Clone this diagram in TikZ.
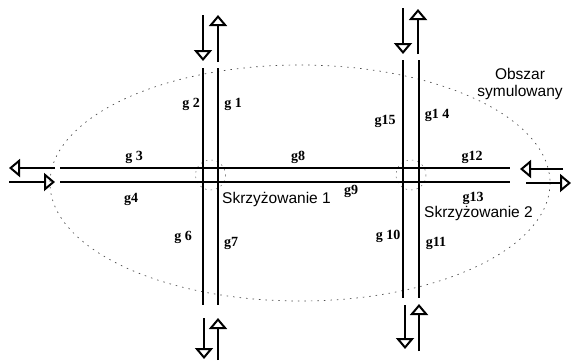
\documentclass[tikz,border=0pt]{standalone}
\usepackage{fontspec}
\setmainfont{Liberation Serif}
\setsansfont{Liberation Sans}
\usetikzlibrary{arrows.meta}
\tikzset{
  road/.style={line width=1.8pt, line cap=butt},
  flow/.style={line width=1.5pt, -{Triangle[open, length=11pt 0 0, width=18pt 0 0, line width=2pt]}},
  glab/.style={font=\bfseries\fontsize{14}{15}\selectfont, inner sep=0pt},
  slab/.style={font=\sffamily\fontsize{15.5}{17}\selectfont, inner sep=0pt},
  area/.style={black!70, line width=0.7pt, dash pattern=on 1.5pt off 5pt},
  junction/.style={black!60, line width=0.5pt, dash pattern=on 1.5pt off 4pt}
}
\begin{document}
\begin{tikzpicture}[x=1pt, y=-1pt]
\useasboundingbox (0,0) rectangle (585,360);
% simulated area
\draw[area] (300,183) ellipse [x radius=250, y radius=118];
\draw[junction] (210.5,175) circle [radius=15];
\draw[junction] (411,175) circle [radius=15];
% horizontal road
\coordinate (hL1) at (60,168); \coordinate (hR1) at (510,168);
\coordinate (hL2) at (60,182); \coordinate (hR2) at (510,182);
\draw[road] (hL1) -- (hR1);
\draw[road] (hL2) -- (hR2);
% vertical road 1
\coordinate (aT1) at (203,68); \coordinate (aB1) at (203,305);
\coordinate (aT2) at (218,68); \coordinate (aB2) at (218,305);
\draw[road] (aT1) -- (aB1);
\draw[road] (aT2) -- (aB2);
% vertical road 2
\coordinate (bT1) at (403,60); \coordinate (bB1) at (403,298);
\coordinate (bT2) at (419,60); \coordinate (bB2) at (419,298);
\draw[road] (bT1) -- (bB1);
\draw[road] (bT2) -- (bB2);
% flow arrows left
\coordinate (l1s) at (55,168); \coordinate (l1e) at (9,168);
\coordinate (l2s) at (9,182); \coordinate (l2e) at (55,182);
\draw[flow] (l1s) -- (l1e);
\draw[flow] (l2s) -- (l2e);
% flow arrows right
\coordinate (r1s) at (563,169); \coordinate (r1e) at (520,169);
\coordinate (r2s) at (526,183); \coordinate (r2e) at (571,183);
\draw[flow] (r1s) -- (r1e);
\draw[flow] (r2s) -- (r2e);
% flow arrows intersection 1
\coordinate (t1s) at (203,15); \coordinate (t1e) at (203,61);
\coordinate (t2s) at (218,62); \coordinate (t2e) at (218,15);
\draw[flow] (t1s) -- (t1e);
\draw[flow] (t2s) -- (t2e);
\coordinate (d1s) at (204,318); \coordinate (d1e) at (204,359);
\coordinate (d2s) at (218,360); \coordinate (d2e) at (218,318);
\draw[flow] (d1s) -- (d1e);
\draw[flow] (d2s) -- (d2e);
% flow arrows intersection 2
\coordinate (u1s) at (403,8); \coordinate (u1e) at (403,54);
\coordinate (u2s) at (418,54); \coordinate (u2e) at (418,9);
\draw[flow] (u1s) -- (u1e);
\draw[flow] (u2s) -- (u2e);
\coordinate (w1s) at (405,305); \coordinate (w1e) at (405,349);
\coordinate (w2s) at (419,351); \coordinate (w2e) at (419,304);
\draw[flow] (w1s) -- (w1e);
\draw[flow] (w2s) -- (w2e);
% labels
\node[glab] (g2) at (191,104) {g 2};
\node[glab] (g1) at (233,104) {g 1};
\node[glab] (g3) at (134,157) {g 3};
\node[glab] (g8) at (298,157) {g8};
\node[glab] (g12) at (472,157) {g12};
\node[glab] (g4) at (131,199) {g4};
\node[glab] (g9) at (351,191) {g9};
\node[glab] (g13) at (473,198) {g13};
\node[glab] (g6) at (183,237) {g 6};
\node[glab] (g7) at (231,243) {g7};
\node[glab] (g15) at (385,121) {g15};
\node[glab] (g14) at (437,115) {g1 4};
\node[glab] (g10) at (388,236) {g 10};
\node[glab] (g11) at (436,243) {g11};
\node[slab, anchor=west] (s1) at (222,199) {Skrzyżowanie 1};
\node[slab, anchor=west] (s2) at (424,213) {Skrzyżowanie 2};
\node[slab, align=center] (obs) at (520,84) {Obszar\\symulowany};
\end{tikzpicture}
\end{document}
